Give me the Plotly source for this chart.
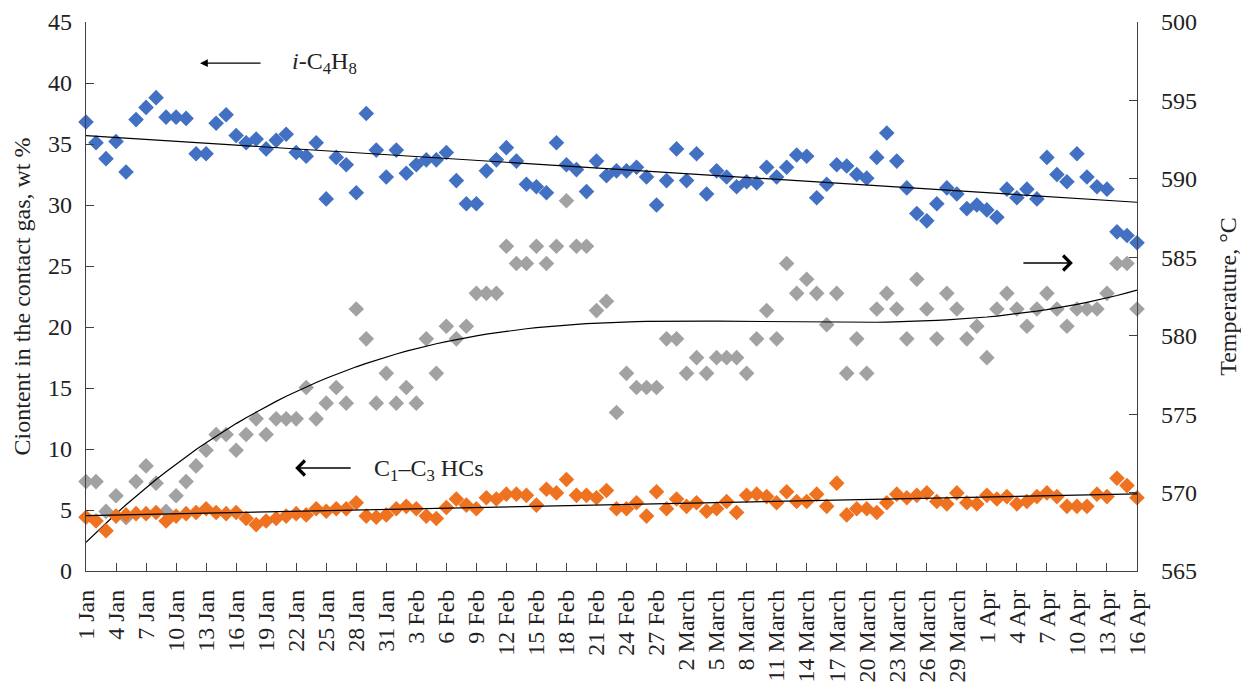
import numpy as np
import pandas as pd
import plotly.graph_objects as go

# ---- data ----
days = pd.date_range("2019-01-01", "2019-04-16", freq="D")  # 106 daily categories

tick_labels = ["1 Jan", "4 Jan", "7 Jan", "10 Jan", "13 Jan", "16 Jan", "19 Jan", "22 Jan",
               "25 Jan", "28 Jan", "31 Jan", "3 Feb", "6 Feb", "9 Feb", "12 Feb", "15 Feb",
               "18 Feb", "21 Feb", "24 Feb", "27 Feb", "2 March", "5 March", "8 March",
               "11 March", "14 March", "17 March", "20 March", "23 March", "26 March",
               "29 March", "1 Apr", "4 Apr", "7 Apr", "10 Apr", "13 Apr", "16 Apr"]

i_c4h8 = [36.8, 35.1, 33.8, 35.2, 32.7, 37.0, 38.0, 38.8, 37.2, 37.2,
          37.1, 34.2, 34.2, 36.7, 37.4, 35.7, 35.1, 35.4, 34.6, 35.3,
          35.8, 34.3, 34.0, 35.1, 30.5, 33.9, 33.3, 31.0, 37.5, 34.5,
          32.3, 34.5, 32.6, 33.3, 33.7, 33.7, 34.3, 32.0, 30.1, 30.1,
          32.8, 33.7, 34.7, 33.6, 31.7, 31.5, 31.0, 35.1, 33.3, 32.9,
          31.1, 33.6, 32.4, 32.8, 32.8, 33.1, 32.3, 30.0, 32.0, 34.6,
          32.0, 34.2, 30.9, 32.8, 32.3, 31.5, 31.9, 31.8, 33.1, 32.3,
          33.1, 34.1, 34.0, 30.6, 31.7, 33.3, 33.2, 32.5, 32.2, 33.9,
          35.9, 33.6, 31.4, 29.3, 28.7, 30.1, 31.4, 30.9, 29.7, 30.0,
          29.6, 29.0, 31.3, 30.6, 31.3, 30.5, 33.9, 32.5, 31.9, 34.2,
          32.3, 31.5, 31.3, 27.8, 27.5, 26.9]

c1_c3 = [4.4, 4.1, 3.3, 4.5, 4.6, 4.7, 4.7, 4.8, 4.1, 4.5,
         4.7, 4.8, 5.1, 4.8, 4.7, 4.8, 4.3, 3.8, 4.1, 4.3,
         4.5, 4.7, 4.6, 5.1, 4.9, 5.1, 5.1, 5.6, 4.5, 4.4,
         4.6, 5.1, 5.3, 5.1, 4.5, 4.3, 5.2, 5.9, 5.4, 5.1,
         6.0, 5.9, 6.3, 6.3, 6.2, 5.4, 6.7, 6.4, 7.5, 6.2,
         6.2, 6.0, 6.6, 5.1, 5.1, 5.6, 4.5, 6.5, 5.1, 5.9,
         5.3, 5.6, 4.9, 5.1, 5.7, 4.8, 6.2, 6.3, 6.1, 5.6,
         6.5, 5.7, 5.7, 6.3, 5.3, 7.2, 4.6, 5.1, 5.1, 4.8,
         5.6, 6.3, 6.0, 6.2, 6.4, 5.7, 5.5, 6.4, 5.6, 5.5,
         6.2, 5.9, 6.1, 5.5, 5.7, 6.1, 6.4, 6.1, 5.3, 5.3,
         5.3, 6.3, 6.1, 7.6, 7.0, 6.0]

temperature = [570.7, 570.7, 568.8, 569.8, 568.4, 570.7, 571.7, 570.6, 568.8, 569.8,
               570.7, 571.7, 572.7, 573.7, 573.7, 572.7, 573.7, 574.7, 573.7, 574.7,
               574.7, 574.7, 576.7, 574.7, 575.7, 576.7, 575.7, 581.7, 579.8, 575.7,
               577.6, 575.7, 576.7, 575.7, 579.8, 577.6, 580.6, 579.8, 580.6, 582.7,
               582.7, 582.7, 585.7, 584.6, 584.6, 585.7, 584.6, 585.7, 588.6, 585.7,
               585.7, 581.6, 582.2, 575.1, 577.6, 576.7, 576.7, 576.7, 579.8, 579.8,
               577.6, 578.6, 577.6, 578.6, 578.6, 578.6, 577.6, 579.8, 581.6, 579.8,
               584.6, 582.7, 583.6, 582.7, 580.7, 582.7, 577.6, 579.8, 577.6, 581.7,
               582.7, 581.7, 579.8, 583.6, 581.7, 579.8, 582.7, 581.7, 579.8, 580.6,
               578.6, 581.7, 582.7, 581.7, 580.6, 581.7, 582.7, 581.7, 580.6, 581.7,
               581.7, 581.7, 582.7, 584.6, 584.6, 581.7]

left_ticks = [0, 5, 10, 15, 20, 25, 30, 35, 40, 45]
right_ticks = [565, 570, 575, 580, 585, 590, 595, 600]
right_tick_text = ["565", "570", "575", "580", "585", "590", "595", "500"]

# ---- trend lines (least-squares fits of the series) ----
idx = np.arange(len(days))
fit_c4 = np.polyval(np.polyfit(idx, i_c4h8, 1), idx)
fit_c13 = np.polyval(np.polyfit(idx, c1_c3, 1), idx)
fit_t = np.polyval(np.polyfit(idx, temperature, 3), idx)

BLUE = "#4270C2"
ORANGE = "#EF7220"
GREY = "#A2A2A2"
FONT = "Liberation Serif, Times New Roman, serif"

fig = go.Figure()
mk = dict(symbol="diamond", size=12, line=dict(width=0))
fig.add_trace(go.Scatter(x=days, y=temperature, mode="markers", yaxis="y",
                         marker=dict(color=GREY, **mk), cliponaxis=False))
fig.add_trace(go.Scatter(x=days, y=fit_t, mode="lines", yaxis="y",
                         line=dict(color="black", width=1.2)))
fig.add_trace(go.Scatter(x=days, y=i_c4h8, mode="markers", yaxis="y2",
                         marker=dict(color=BLUE, **mk), cliponaxis=False))
fig.add_trace(go.Scatter(x=days, y=c1_c3, mode="markers", yaxis="y2",
                         marker=dict(color=ORANGE, **mk), cliponaxis=False))
fig.add_trace(go.Scatter(x=days, y=fit_c4, mode="lines", yaxis="y2",
                         line=dict(color="black", width=1.2)))
fig.add_trace(go.Scatter(x=days, y=fit_c13, mode="lines", yaxis="y2",
                         line=dict(color="black", width=1.2)))

axis_common = dict(showgrid=False, zeroline=False, showline=True, linecolor="#404040",
                   linewidth=1.3, ticks="inside", ticklen=8, tickcolor="#404040",
                   tickwidth=1.3, tickfont=dict(family=FONT, size=24, color="#222"))

fig.update_layout(
    width=1241, height=694,
    margin=dict(l=86, r=104, t=22, b=123, autoexpand=False),
    paper_bgcolor="white", plot_bgcolor="white",
    showlegend=False,
    font=dict(family=FONT, color="#222"),
    xaxis=dict(range=[days[0], days[-1]], tickvals=days[::3], ticktext=tick_labels,
               tickangle=-90, automargin=False, ticklabelstandoff=8, **axis_common),
    yaxis=dict(range=[565, 600], tickvals=right_ticks, ticktext=right_tick_text,
               side="right", automargin=False, ticklabelstandoff=18,
               title=dict(text="Temperature, °C", font=dict(family=FONT, size=24, color="#222"),
                          standoff=24),
               **axis_common),
    yaxis2=dict(range=[0, 45], tickvals=left_ticks, side="left", overlaying="y",
                automargin=False, ticklabelstandoff=8,
                title=dict(text="Ciontent in the contact gas, wt %",
                           font=dict(family=FONT, size=24, color="#222"), standoff=10),
                **axis_common),
)

ann_font = dict(family=FONT, size=24, color="#222")
fig.add_annotation(xref="paper", yref="paper", x=0.1085, y=0.925, ax=62, ay=0,
                   showarrow=True, arrowhead=2, arrowsize=1.3, arrowwidth=1.2,
                   arrowcolor="black", text="")
fig.add_annotation(xref="paper", yref="paper", x=0.194, y=0.925, xanchor="left",
                   yanchor="middle", showarrow=False, font=ann_font,
                   text="<i>i</i>-C<sub>4</sub>H<sub>8</sub>")
fig.add_annotation(xref="paper", yref="paper", x=0.939, y=0.561, ax=-51, ay=0,
                   showarrow=True, arrowhead=4, arrowsize=1.8, arrowwidth=1.6,
                   arrowcolor="black", text="")
fig.add_annotation(xref="paper", yref="paper", x=0.199, y=0.1876, ax=57, ay=0,
                   showarrow=True, arrowhead=4, arrowsize=1.8, arrowwidth=1.6,
                   arrowcolor="black", text="")
fig.add_annotation(xref="paper", yref="paper", x=0.272, y=0.184, xanchor="left",
                   yanchor="middle", showarrow=False, font=ann_font,
                   text="C<sub>1</sub>–C<sub>3</sub> HCs")

fig.write_html("out.html")
